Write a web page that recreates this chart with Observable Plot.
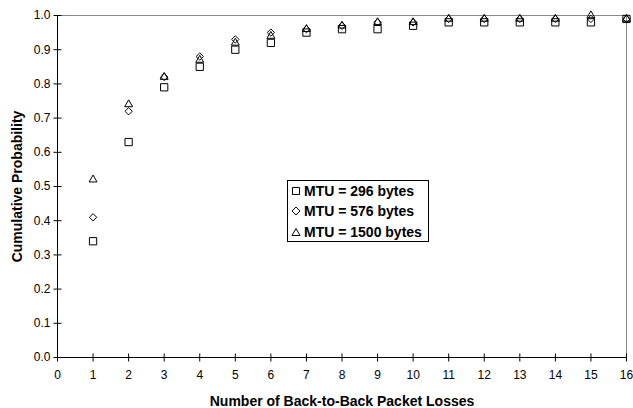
<!DOCTYPE html>
<html>
<head>
<meta charset="utf-8">
<script src="https://cdn.jsdelivr.net/npm/d3@7"></script>
<script src="https://cdn.jsdelivr.net/npm/@observablehq/plot@0.6"></script>
<style>
  html, body { margin: 0; padding: 0; background: #fff; }
  #wrap { position: relative; width: 633px; height: 408px; font-family: Arial, "Liberation Sans", sans-serif; }
  #legend { position: absolute; left: 287px; top: 180px; width: 140px; height: 60px; border: 1px solid #000; background: #fff; box-sizing: content-box; }
  .row { position: absolute; left: 3px; height: 20px; display: flex; align-items: center; font-weight: bold; font-size: 14px; color: #000; white-space: nowrap; }
  .row svg { margin-right: 3px; }
</style>
</head>
<body>
<div id="wrap"></div>
<script>
const losses = [1, 2, 3, 4, 5, 6, 7, 8, 9, 10, 11, 12, 13, 14, 15, 16];
const mtu296 = [0.34, 0.63, 0.79, 0.85, 0.90, 0.92, 0.95, 0.96, 0.96, 0.97, 0.98, 0.98, 0.98, 0.98, 0.98, 0.99];
const mtu576 = [0.41, 0.72, 0.82, 0.88, 0.93, 0.95, 0.96, 0.97, 0.98, 0.98, 0.99, 0.99, 0.99, 0.99, 0.99, 0.99];
const mtu1500 = [0.52, 0.74, 0.82, 0.87, 0.92, 0.94, 0.96, 0.97, 0.98, 0.98, 0.99, 0.99, 0.99, 0.99, 1.00, 0.99];
const seriesNames = ["MTU = 296 bytes", "MTU = 576 bytes", "MTU = 1500 bytes"];
const xTicks = d3.range(0, 17);
const yTicks = [0, 0.1, 0.2, 0.3, 0.4, 0.5, 0.6, 0.7, 0.8, 0.9, 1.0];
const xTitle = "Number of Back-to-Back Packet Losses";
const yTitle = "Cumulative Probability";

const toRows = (vals) => losses.map((x, i) => ({x, y: vals[i]}));

const vtick = {draw(ctx) { ctx.moveTo(0, -4); ctx.lineTo(0, 4); }};
const htick = {draw(ctx) { ctx.moveTo(-4, 0); ctx.lineTo(4, 0); }};

const chart = Plot.plot({
  width: 633,
  height: 408,
  marginLeft: 57,
  marginRight: 7,
  marginTop: 15,
  marginBottom: 51,
  style: {fontFamily: "Arial, 'Liberation Sans', sans-serif", color: "#000", background: "#fff"},
  x: {domain: [0, 16]},
  y: {domain: [0, 1]},
  marks: [
    Plot.ruleY([1], {stroke: "#888", strokeWidth: 1}),
    Plot.ruleX([16], {stroke: "#888", strokeWidth: 1}),
    Plot.ruleX([0], {stroke: "#000", strokeWidth: 1}),
    Plot.ruleY([0], {stroke: "#000", strokeWidth: 1}),
    Plot.dot(xTicks, {x: d => d, y: () => 0, symbol: vtick, stroke: "#000", fill: "none", strokeWidth: 1}),
    Plot.dot(yTicks, {x: () => 0, y: d => d, symbol: htick, stroke: "#000", fill: "none", strokeWidth: 1}),
    Plot.axisX({ticks: xTicks, tickSize: 0, tickPadding: 13, fontSize: 12, label: null, tickFormat: d3.format("d")}),
    Plot.axisY({ticks: yTicks, tickSize: 0, tickPadding: 7, fontSize: 12, label: null, tickFormat: d3.format(".1f")}),
    Plot.text([xTitle], {text: d => d, frameAnchor: "bottom", dy: 44, fontWeight: "bold", fontSize: 14, lineAnchor: "middle", textAnchor: "middle"}),
    Plot.text([yTitle], {text: d => d, frameAnchor: "left", dx: -39.5, rotate: -90, fontWeight: "bold", fontSize: 14, lineAnchor: "middle", textAnchor: "middle"}),
    Plot.dot(toRows(mtu296), {x: "x", y: "y", symbol: "square", r: 4.1, stroke: "#000", fill: "none", strokeWidth: 1}),
    Plot.dot(toRows(mtu576), {x: "x", y: "y", symbol: "diamond2", r: 3.3, stroke: "#000", fill: "none", strokeWidth: 1}),
    Plot.dot(toRows(mtu1500), {x: "x", y: "y", symbol: "triangle2", r: 3.8, stroke: "#000", fill: "none", strokeWidth: 1})
  ]
});

const wrap = document.getElementById("wrap");
wrap.appendChild(chart);

const legend = document.createElement("div");
legend.id = "legend";
const symPaths = [
  "M1.5,1.5H8.5V8.5H1.5Z",
  "M5,1L9,5L5,9L1,5Z",
  "M5,1.5L9,8.5H1Z"
];
seriesNames.forEach((name, i) => {
  const row = document.createElement("div");
  row.className = "row";
  row.style.top = (i * 20.3) + "px";
  row.innerHTML = `<svg width="10" height="10" viewBox="0 0 10 10"><path d="${symPaths[i]}" fill="none" stroke="#000" stroke-width="1"/></svg><span>${name}</span>`;
  legend.appendChild(row);
});
wrap.appendChild(legend);
</script>
</body>
</html>
